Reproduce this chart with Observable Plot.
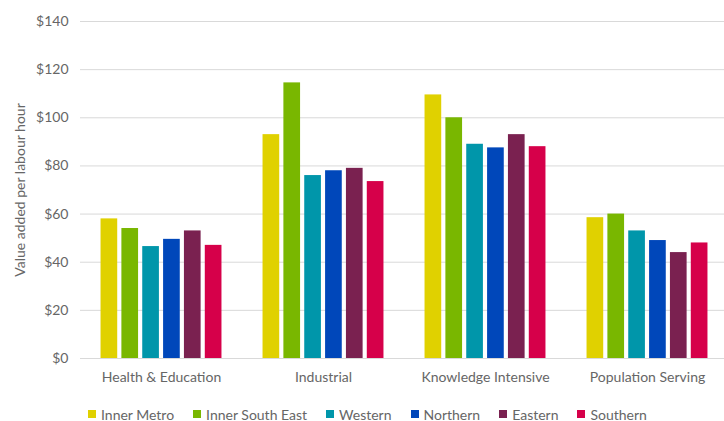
<!DOCTYPE html>
<html>
<head>
<meta charset="utf-8">
<script src="https://cdn.jsdelivr.net/npm/d3@7"></script>
<script src="https://cdn.jsdelivr.net/npm/@observablehq/plot@0.6"></script>
<style>
  body { margin: 0; background: #fff; font-family: Lato, "Open Sans", sans-serif; }
  #chart svg { display: block; overflow: visible; }
  .legend { display: flex; align-items: center; margin-left: 88px; padding-top: 9px; height: 20px; font-size: 14px; color: #666; }
  .legend .item { display: flex; align-items: center; margin-right: 19px; }
  .legend .sw { width: 8px; height: 8px; margin-right: 5px; }
</style>
</head>
<body>
<div id="chart"></div>
<script>
const categories = ["Health & Education", "Industrial", "Knowledge Intensive", "Population Serving"];
const regions = ["Inner Metro", "Inner South East", "Western", "Northern", "Eastern", "Southern"];
const colors = ["#E0D100", "#79B700", "#0096AA", "#0047BA", "#7A2150", "#D6004A"];
const innerMetro = [58, 93, 109.5, 58.5];
const innerSouthEast = [54, 114.5, 100, 60];
const western = [46.5, 76, 89, 53];
const northern = [49.5, 78, 87.5, 49];
const eastern = [53, 79, 93, 44];
const southern = [47, 73.5, 88, 48];
const yTicks = [0, 20, 40, 60, 80, 100, 120, 140];

const seriesValues = [innerMetro, innerSouthEast, western, northern, eastern, southern];
const data = [];
categories.forEach((c, ci) => {
  regions.forEach((r, ri) => {
    data.push({category: c, region: r, value: seriesValues[ri][ci]});
  });
});

const chart = Plot.plot({
  width: 724,
  height: 395,
  marginLeft: 79,
  marginRight: -4,
  marginTop: 21,
  marginBottom: 37,
  style: {fontFamily: "Lato, 'Open Sans', sans-serif", fontSize: "14px", color: "#666", background: "#fff"},
  fx: {domain: categories, padding: 0, axis: "bottom", tickSize: 0, tickPadding: 14, label: null},
  x: {domain: regions, paddingInner: 0.2, paddingOuter: 0.985, round: false, axis: null},
  y: {domain: [0, 140], ticks: yTicks, tickFormat: d => "$" + d, tickSize: 0, tickPadding: 12,
      label: "Value added per labour hour", labelAnchor: "center", labelOffset: 65, labelArrow: "none"},
  color: {domain: regions, range: colors},
  marks: [
    Plot.ruleY(yTicks, {stroke: "#d9d9d9", strokeWidth: 1}),
    Plot.barY(data, {fx: "category", x: "region", y: "value", fill: "region"})
  ]
});
document.getElementById("chart").appendChild(chart);

const legend = document.createElement("div");
legend.className = "legend";
regions.forEach((r, i) => {
  const item = document.createElement("div");
  item.className = "item";
  const sw = document.createElement("span");
  sw.className = "sw";
  sw.style.background = colors[i];
  const t = document.createElement("span");
  t.textContent = r;
  item.appendChild(sw);
  item.appendChild(t);
  legend.appendChild(item);
});
document.body.appendChild(legend);
</script>
</body>
</html>
